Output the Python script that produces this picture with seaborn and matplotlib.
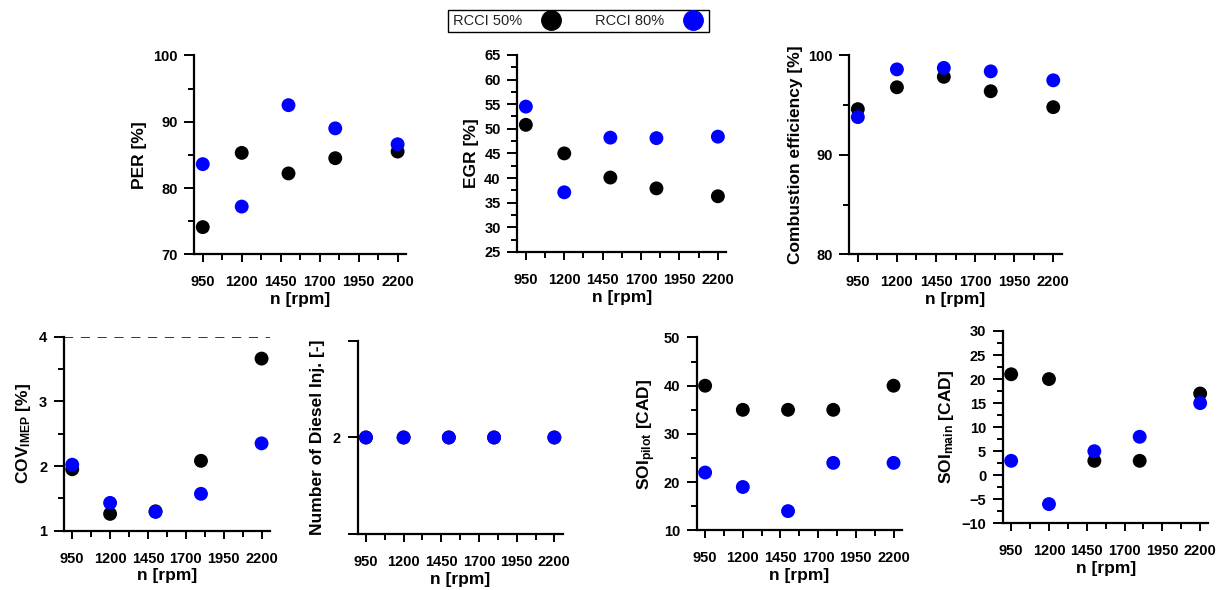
import matplotlib
matplotlib.use("Agg")
import matplotlib.pyplot as plt
import seaborn as sns
import pandas as pd
from matplotlib.lines import Line2D
from matplotlib.ticker import MultipleLocator, FixedLocator

# engine speed [rpm]
speed = [950, 1200, 1500, 1800, 2200]
modes = ["RCCI 50%", "RCCI 80%"]

per_50 = [74.1, 85.3, 82.2, 84.5, 85.5]
per_80 = [83.6, 77.2, 92.5, 89.0, 86.6]

egr_50 = [50.8, 45.0, 40.1, 37.9, 36.3]
egr_80 = [54.5, 37.1, 48.2, 48.1, 48.4]

comb_50 = [94.6, 96.8, 97.85, 96.4, 94.8]
comb_80 = [93.8, 98.6, 98.75, 98.4, 97.5]

cov_50 = [1.95, 1.26, 1.30, 2.08, 3.66]
cov_80 = [2.02, 1.43, 1.29, 1.57, 2.35]

inj_50 = [2, 2, 2, 2, 2]
inj_80 = [2, 2, 2, 2, 2]

soi_pilot_50 = [40, 35, 35, 35, 40]
soi_pilot_80 = [22, 19, 14, 24, 24]

soi_main_50 = [21, 20, 3, 3, 17]
soi_main_80 = [3, -6, 5, 8, 15]

colors = {"RCCI 50%": "black", "RCCI 80%": "#0000ff"}

sns.set_theme(style="ticks")
plt.rcParams["font.family"] = ["Liberation Sans", "DejaVu Sans"]
plt.rcParams["font.weight"] = "bold"
plt.rcParams["text.color"] = "black"
plt.rcParams["axes.labelcolor"] = "black"
plt.rcParams["mathtext.fontset"] = "custom"
plt.rcParams["mathtext.rm"] = "Liberation Sans:bold"
plt.rcParams["mathtext.bf"] = "Liberation Sans:bold"
plt.rcParams["mathtext.default"] = "rm"


def long_df(v50, v80):
    return pd.DataFrame({
        "n": speed + speed,
        "y": list(v50) + list(v80),
        "mode": [modes[0]] * len(speed) + [modes[1]] * len(speed),
    })


def panel(fig, rect, v50, v80, ylabel, ylim, ymajor, yminor, ylabelpad=4):
    ax = fig.add_axes(rect)
    sns.scatterplot(data=long_df(v50, v80), x="n", y="y", hue="mode",
                    palette=colors, s=100, edgecolor="none", legend=False, ax=ax,
                    zorder=3, clip_on=False)
    ax.set_xlim(895, 2255)
    ax.set_ylim(*ylim)
    ax.xaxis.set_major_locator(FixedLocator([950, 1200, 1450, 1700, 1950, 2200]))
    ax.xaxis.set_minor_locator(FixedLocator([1075, 1325, 1575, 1825, 2075]))
    if isinstance(ymajor, list):
        ax.yaxis.set_major_locator(FixedLocator(ymajor))
    else:
        ax.yaxis.set_major_locator(MultipleLocator(ymajor))
    if yminor:
        ax.yaxis.set_minor_locator(MultipleLocator(yminor))
    sns.despine(ax=ax)
    for s in ("left", "bottom"):
        ax.spines[s].set_linewidth(1.6)
        ax.spines[s].set_color("black")
    ax.tick_params(axis="x", which="major", length=6, width=1.4, pad=9,
                   labelsize=10.5, colors="black")
    ax.tick_params(axis="x", which="minor", length=4.5, width=1.4, colors="black")
    ax.tick_params(axis="y", which="major", length=7, width=1.4, pad=5,
                   labelsize=10.5, colors="black")
    ax.tick_params(axis="y", which="minor", length=4.5, width=1.4, colors="black")
    for lab in ax.get_xticklabels() + ax.get_yticklabels():
        lab.set_fontweight("bold")
    ax.set_xlabel("n [rpm]", fontsize=12.5, fontweight="bold", labelpad=2)
    ax.set_ylabel(ylabel, fontsize=12.5, fontweight="bold", labelpad=ylabelpad)
    return ax


fig = plt.figure(figsize=(12.29, 5.9), dpi=100)

panel(fig, [0.158, 0.569, 0.1725, 0.337], per_50, per_80, "PER [%]",
      (70, 100), 10, 5)
panel(fig, [0.421, 0.573, 0.170, 0.334], egr_50, egr_80, "EGR [%]",
      (25, 65), 5, 2.5)
panel(fig, [0.691, 0.569, 0.173, 0.337], comb_50, comb_80,
      "Combustion efficiency [%]", (80, 100), 10, 5)

ax_cov = panel(fig, [0.052, 0.1005, 0.1676, 0.329], cov_50, cov_80,
               r"COV$_{\mathrm{IMEP}}$ [%]", (1, 4), 1, 0.5)
ax_cov.axhline(4, color="black", lw=1.1, ls=(0, (6, 5)), zorder=1)

ax_inj = panel(fig, [0.291, 0.095, 0.1668, 0.327], inj_50, inj_80,
               "Number of Diesel Inj. [-]", (1, 3), [1, 2, 3], None, ylabelpad=6)
ax_inj.set_yticklabels(["", "2", ""])
for lab in ax_inj.get_yticklabels():
    lab.set_fontweight("bold")

panel(fig, [0.567, 0.101, 0.1668, 0.327], soi_pilot_50, soi_pilot_80,
      r"SOI$_{\mathrm{pilot}}$ [CAD]", (10, 50), 10, 5)
panel(fig, [0.816, 0.113, 0.1673, 0.326], soi_main_50, soi_main_80,
      r"SOI$_{\mathrm{main}}$ [CAD]", (-10, 30), 5, 2.5)

handles = [Line2D([], [], marker="o", ls="none", color=colors[m],
                  markersize=14, label=m) for m in modes]
leg = fig.legend(handles=handles, loc="center", bbox_to_anchor=(0.471, 0.9644),
                 ncol=2, markerfirst=False, frameon=True, fancybox=False,
                 edgecolor="black", framealpha=1, handletextpad=1.2,
                 columnspacing=2.2, borderpad=0.3, handlelength=1.6,
                 prop={"family": "Liberation Sans", "size": 10.5, "weight": "normal"})
leg.get_frame().set_linewidth(1.0)
for t in leg.get_texts():
    t.set_color("#222222")

fig.savefig("out.png", dpi=100)
